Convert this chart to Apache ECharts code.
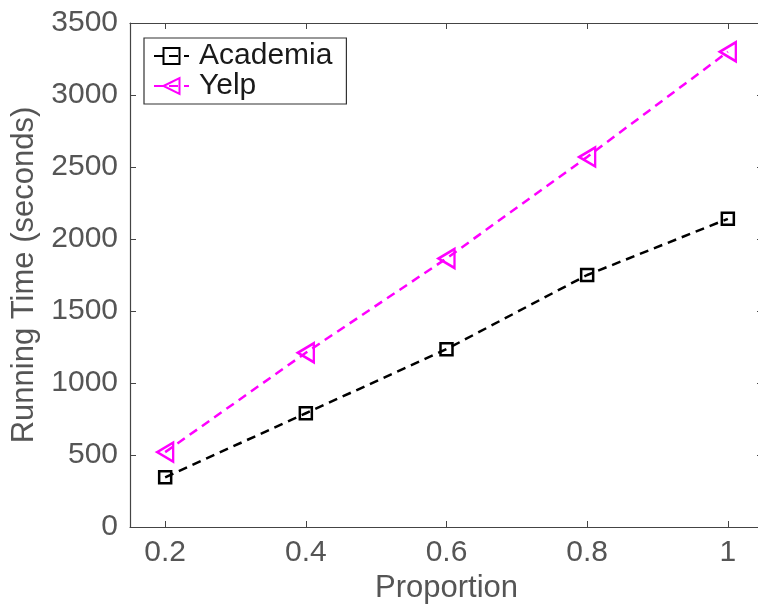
<!DOCTYPE html>
<html><head><meta charset="utf-8">
<script src="https://cdn.jsdelivr.net/npm/echarts@6/dist/echarts.min.js"></script>
<style>html,body{margin:0;padding:0;background:#fff}#c{width:758px;height:608px}</style>
</head><body><div id="c"></div>
<script>
const proportions = [0.2, 0.4, 0.6, 0.8, 1.0];
const academia = [345, 790, 1235, 1750, 2140];
const yelp = [520, 1210, 1865, 2570, 3300];
const xTicks = [0.2, 0.4, 0.6, 0.8, 1.0];
const yTicks = [0, 500, 1000, 1500, 2000, 2500, 3000, 3500];

const FONT = '"Liberation Sans", Arial, Helvetica, sans-serif';
const AX = '#444';
const chart = echarts.init(document.getElementById('c'), null, {renderer: 'canvas'});
const axisCommon = {
  axisLine: {show: true, onZero: false, lineStyle: {color: AX, width: 1.2}},
  splitLine: {show: false}
};
chart.setOption({
  animation: false,
  backgroundColor: '#fff',
  textStyle: {fontFamily: FONT},
  grid: {left: 130, top: 23, width: 633, height: 504, containLabel: false, outerBoundsMode: 'none'},
  legend: {
    orient: 'vertical', left: 144, top: 38,
    padding: [3, 14, 3, 9],
    itemWidth: 35, itemHeight: 20, itemGap: 0,
    borderColor: '#333', borderWidth: 1.2, backgroundColor: '#fff',
    textStyle: {fontSize: 30, color: '#1a1a1a', fontFamily: FONT, lineHeight: 28, padding: [0, 0, 0, 5]},
    data: ['Academia', 'Yelp']
  },
  xAxis: [{
    type: 'value', min: 0.15, max: 1.05, position: 'bottom',
    name: 'Proportion', nameLocation: 'middle', nameGap: 42,
    nameTextStyle: {fontSize: 31, color: '#555', fontFamily: FONT},
    axisTick: {show: true, inside: true, length: 6, customValues: xTicks, lineStyle: {color: AX}},
    axisLabel: {show: true, customValues: xTicks, fontSize: 30, color: '#555', margin: 11, fontFamily: FONT,
      formatter: v => (Math.abs(v - 1) < 1e-9 ? '1' : v.toFixed(1))},
    ...axisCommon
  }, {
    type: 'value', min: 0.15, max: 1.05, position: 'top',
    axisTick: {show: true, inside: true, length: 6, customValues: xTicks, lineStyle: {color: AX}},
    axisLabel: {show: false},
    ...axisCommon
  }],
  yAxis: [{
    type: 'value', min: 0, max: 3500, interval: 500, position: 'left',
    name: 'Running Time (seconds)', nameLocation: 'middle', nameGap: 88,
    nameTextStyle: {fontSize: 31, color: '#555', fontFamily: FONT},
    axisTick: {show: true, inside: true, length: 6, lineStyle: {color: AX}},
    axisLabel: {show: true, fontSize: 30, color: '#555', margin: 12, fontFamily: FONT,
      formatter: v => String(v)},
    ...axisCommon
  }, {
    type: 'value', min: 0, max: 3500, interval: 500, position: 'right',
    axisTick: {show: true, inside: true, length: 6, lineStyle: {color: AX}},
    axisLabel: {show: false},
    ...axisCommon
  }],
  series: [{
    name: 'Academia', type: 'line',
    data: proportions.map((p, i) => [p, academia[i]]),
    symbol: 'rect', symbolSize: 12,
    itemStyle: {color: 'rgba(0,0,0,0)', borderColor: '#000', borderWidth: 2.5},
    lineStyle: {color: '#000', width: 2.5, type: [9, 6]},
    z: 3
  }, {
    name: 'Yelp', type: 'line',
    data: proportions.map((p, i) => [p, yelp[i]]),
    symbol: 'triangle', symbolSize: [19, 16], symbolRotate: 90,
    itemStyle: {color: 'rgba(0,0,0,0)', borderColor: '#ff00ff', borderWidth: 2.5},
    lineStyle: {color: '#ff00ff', width: 2.5, type: [9, 6]},
    z: 3
  }]
});
</script></body></html>
